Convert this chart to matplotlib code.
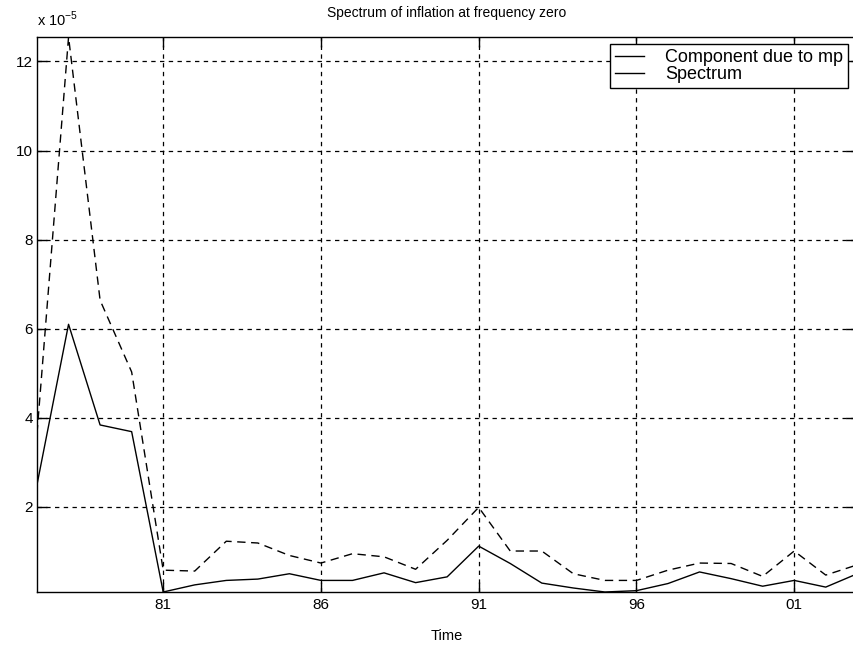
import matplotlib.pyplot as plt
from matplotlib.lines import Line2D
import numpy as np

plt.rcParams['font.family'] = ['Liberation Sans', 'DejaVu Sans']

# annual data, 1977-2003, values in units of 1e-5
years = np.arange(1977, 2004)
component = [2.5, 6.1, 3.84, 3.69, 0.09, 0.25, 0.35, 0.38, 0.5, 0.35,
             0.35, 0.52, 0.3, 0.43, 1.12, 0.73, 0.29, 0.18, 0.09, 0.12,
             0.28, 0.54, 0.39, 0.22, 0.35, 0.2, 0.5]
spectrum = [3.65, 12.55, 6.64, 5.03, 0.58, 0.56, 1.23, 1.19, 0.91, 0.74,
            0.95, 0.88, 0.6, 1.25, 1.99, 1.01, 1.01, 0.5, 0.35, 0.35,
            0.58, 0.74, 0.73, 0.44, 1.01, 0.47, 0.7]
xticks = [1981, 1986, 1991, 1996, 2001]
xticklabels = ['81', '86', '91', '96', '01']
yticks = [2, 4, 6, 8, 10, 12]

fig = plt.figure(figsize=(8.54, 6.52), dpi=100)
ax = fig.add_axes([37 / 854, 1 - 592 / 652, 1 - 37 / 854 + 0.002, (592 - 37) / 652])

ax.plot(years, component, color='black', lw=1.0)
ax.plot(years, spectrum, color='black', lw=1.0, linestyle=(0, (6, 4)))

ax.set_xlim(1977, 2002.95)
ax.set_ylim(0.09, 12.55)
ax.set_xticks(xticks)
ax.set_xticklabels(xticklabels)
ax.set_yticks(yticks)
ax.tick_params(direction='in', length=7, width=1, labelsize=11, top=True, right=True)
ax.tick_params(axis='x', pad=4.5)
ax.tick_params(axis='y', pad=3)
ax.grid(True, color='black', linestyle=(0, (3.5, 3.5)), linewidth=0.9)
for s in ax.spines.values():
    s.set_linewidth(1.0)

ax.set_title('Spectrum of inflation at frequency zero', fontsize=10, pad=14.5)
ax.set_xlabel('Time', fontsize=10.5, labelpad=12)
ax.text(0.0, 1.014, r'x 10$^{\mathregular{-5}}$', transform=ax.transAxes,
        fontsize=10.5, ha='left', va='bottom')

handles = [Line2D([], [], color='black', lw=1.0), Line2D([], [], color='black', lw=1.0)]
leg = ax.legend(handles, ['Component due to mp', 'Spectrum'], loc='upper right',
                bbox_to_anchor=(848 / 854, 1 - 44 / 652), bbox_transform=fig.transFigure,
                fontsize=13, fancybox=False, framealpha=1, edgecolor='black',
                borderpad=0.28, labelspacing=0.02, handlelength=1.6, handletextpad=1.15,
                borderaxespad=0)
leg.get_frame().set_linewidth(1.0)

fig.savefig('out.png', dpi=100)
